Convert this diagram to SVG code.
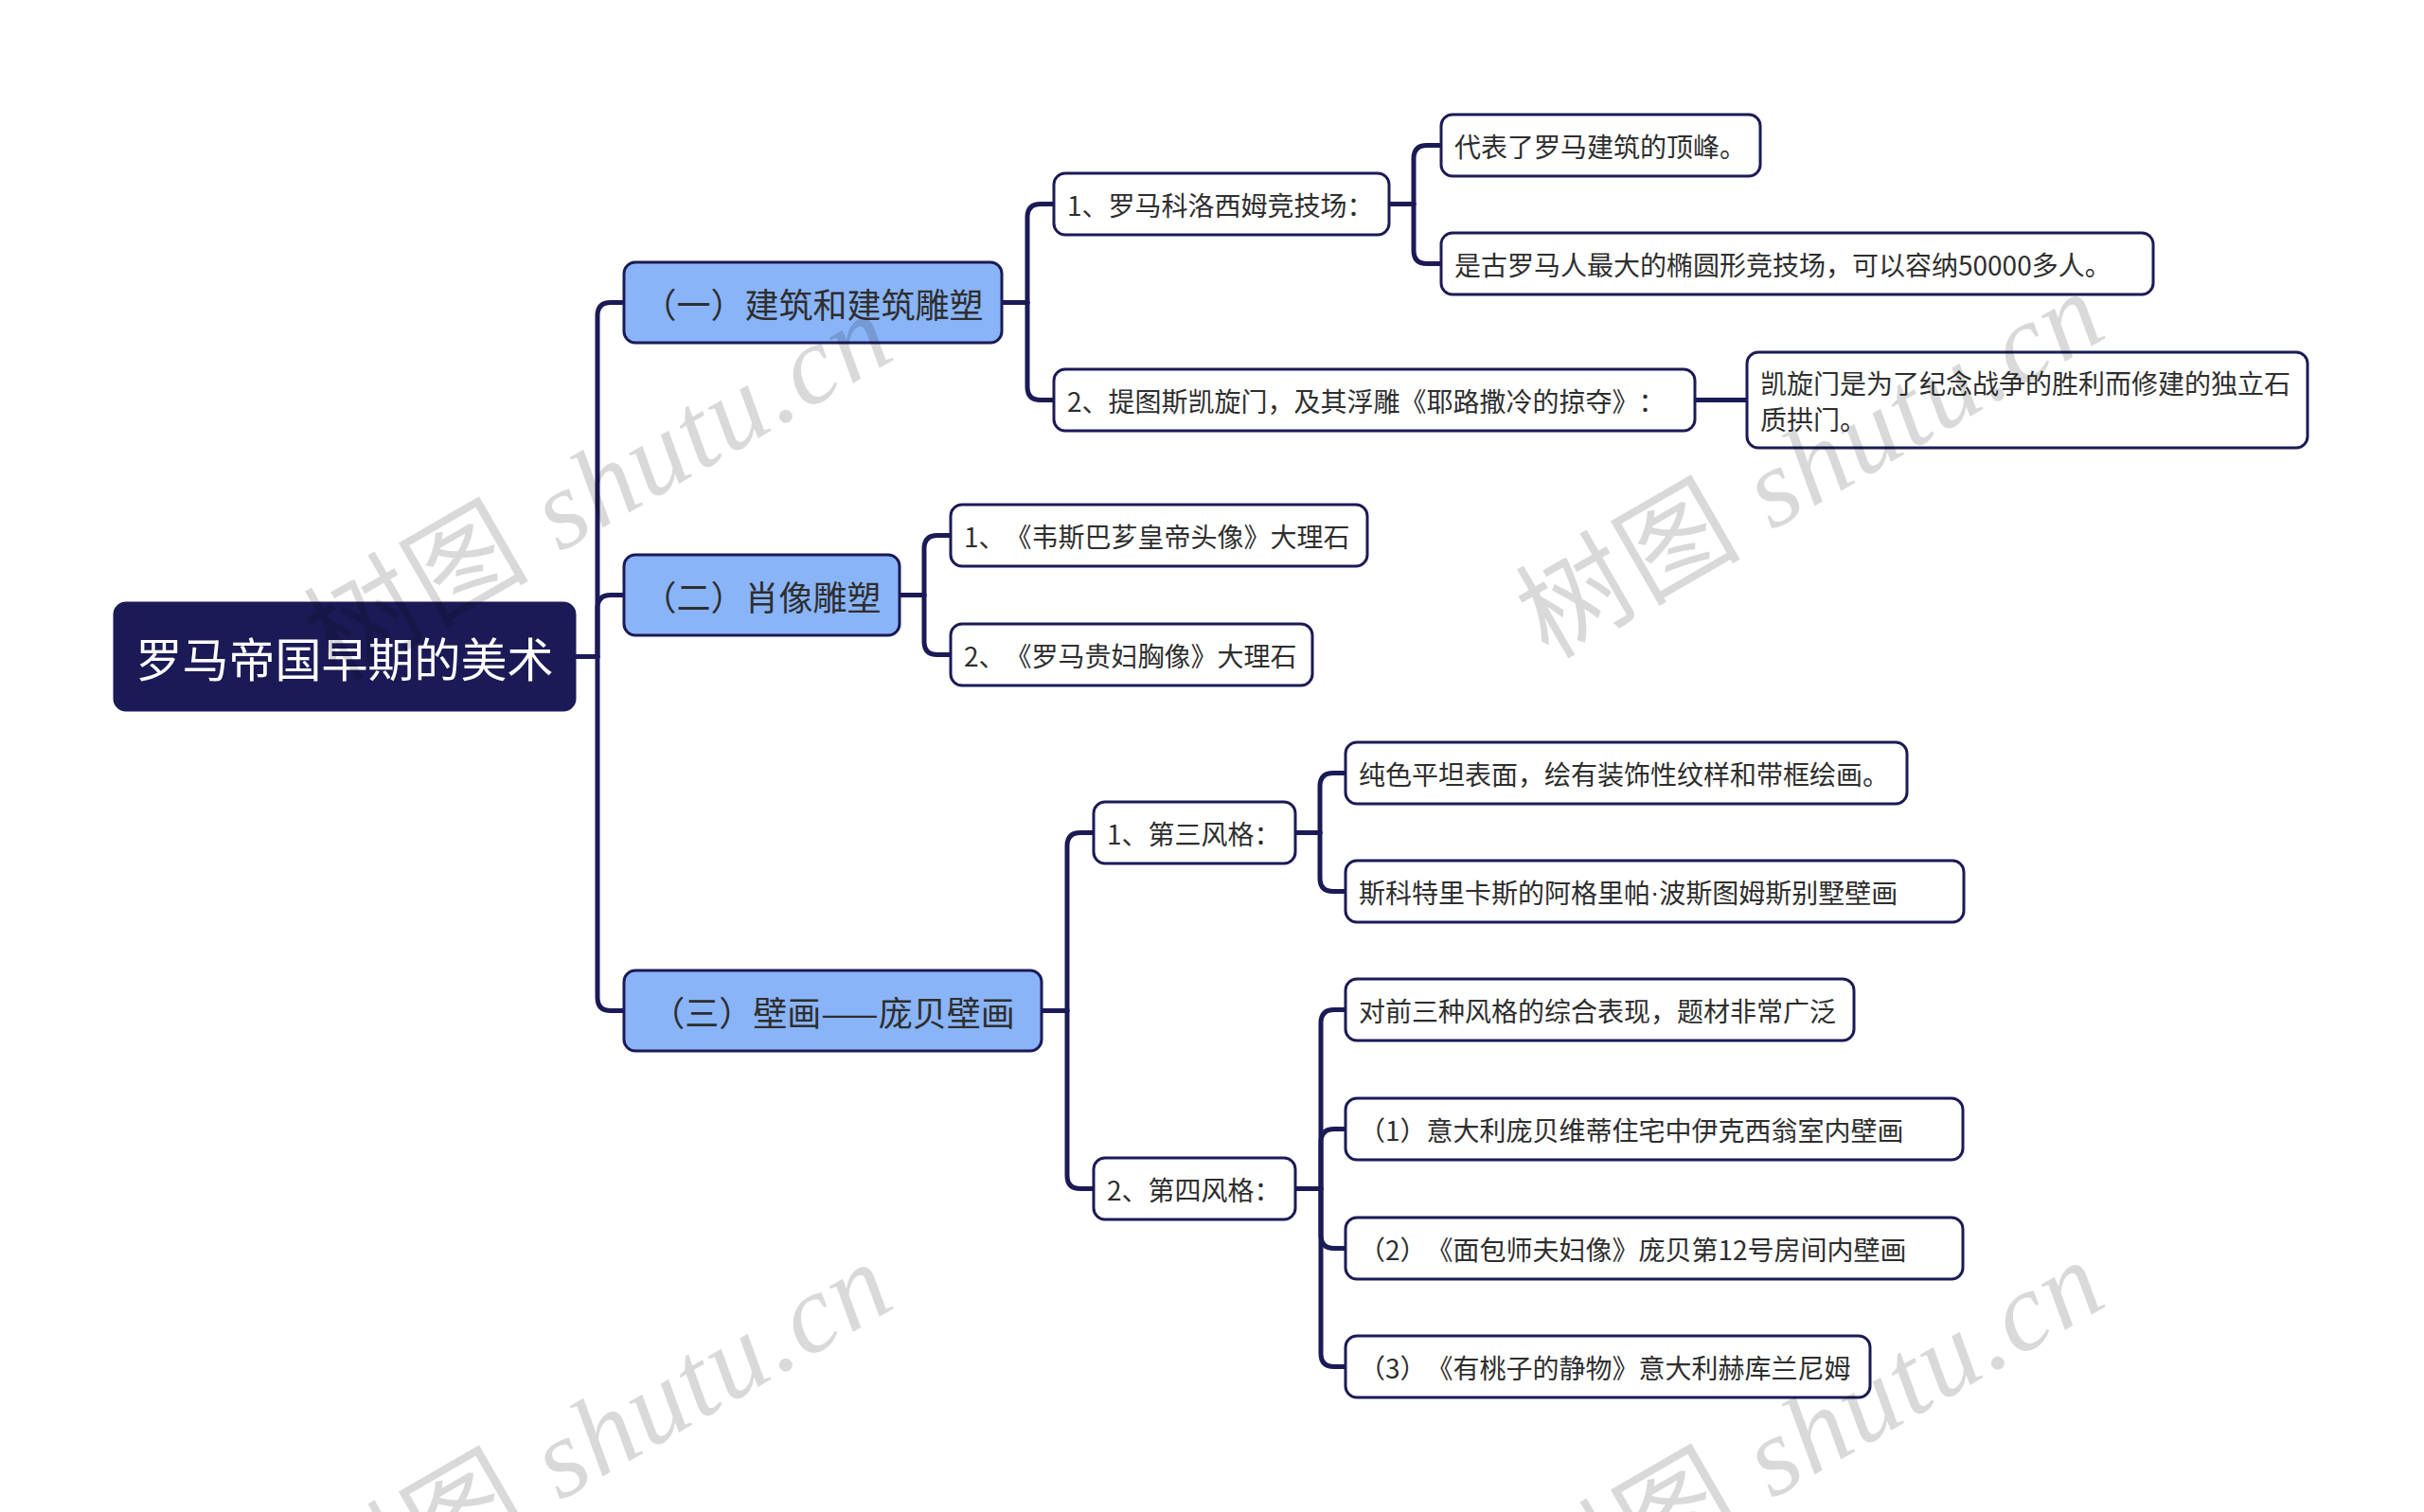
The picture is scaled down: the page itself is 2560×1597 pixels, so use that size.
<svg xmlns="http://www.w3.org/2000/svg" width="2560" height="1597" viewBox="0 0 2560 1597">
<style>
.bg{fill:#ffffff}
.root rect{fill:#1c1a56;stroke:#1c1a56;stroke-width:3}
.l1 rect{fill:#8ab4f8;stroke:#1c1a56;stroke-width:3}
.l2 rect{fill:#ffffff;stroke:#1c1a56;stroke-width:3}
text{font-family:"Noto Sans CJK SC","Liberation Sans",sans-serif;text-spacing-trim:space-all;font-feature-settings:"chws" 0,"halt" 0}
.root text{fill:#ffffff;font-size:49px}
.l1 text{fill:#2e2e2e;font-size:36px}
.l2 text{fill:#2e2e2e;font-size:28px}
.dot{font-family:"Liberation Sans",sans-serif}
.conn path{fill:none;stroke:#1c1a56;stroke-width:5;stroke-linecap:round;stroke-linejoin:round}
.wm{fill:#000000;fill-opacity:0.15;font-size:118px;font-family:"Liberation Serif","Noto Sans CJK SC",serif}
</style>
<rect class="bg" x="0" y="0" width="2560" height="1597"/>
<g id="connectors" class="conn">
  <path d="M607,693.5 H631"/>
  <path d="M631,693.5 V333.5 Q631,319.5 645,319.5 H659"/>
  <path d="M631,693.5 V642.5 Q631,628.5 645,628.5 H659"/>
  <path d="M631,693.5 V1053.5 Q631,1067.5 645,1067.5 H659"/>
  <path d="M1058,319.5 H1085"/>
  <path d="M1085,319.5 V229.5 Q1085,215.5 1099,215.5 H1113"/>
  <path d="M1085,319.5 V408.5 Q1085,422.5 1099,422.5 H1113"/>
  <path d="M1467,215.5 H1493"/>
  <path d="M1493,215.5 V167.5 Q1493,153.5 1507,153.5 H1522"/>
  <path d="M1493,215.5 V264.5 Q1493,278.5 1507,278.5 H1522"/>
  <path d="M1790,422.5 H1845"/>
  <path d="M950,628.5 H976"/>
  <path d="M976,628.5 V579.5 Q976,565.5 990,565.5 H1004"/>
  <path d="M976,628.5 V677.5 Q976,691.5 990,691.5 H1004"/>
  <path d="M1100,1067.5 H1127"/>
  <path d="M1127,1067.5 V893.5 Q1127,879.5 1141,879.5 H1155"/>
  <path d="M1127,1067.5 V1241.5 Q1127,1255.5 1141,1255.5 H1155"/>
  <path d="M1368,879.5 H1394"/>
  <path d="M1394,879.5 V830.5 Q1394,816.5 1408,816.5 H1421"/>
  <path d="M1394,879.5 V927.5 Q1394,941.5 1408,941.5 H1421"/>
  <path d="M1368,1255.5 H1395"/>
  <path d="M1395,1255.5 V1080.5 Q1395,1066.5 1409,1066.5 H1421"/>
  <path d="M1395,1255.5 V1206.5 Q1395,1192.5 1409,1192.5 H1421"/>
  <path d="M1395,1255.5 V1304.5 Q1395,1318.5 1409,1318.5 H1421"/>
  <path d="M1395,1255.5 V1429.5 Q1395,1443.5 1409,1443.5 H1421"/>
</g>

<g id="root" class="root">
  <rect x="121" y="637" width="486" height="113" rx="12"/>
  <text x="364" y="693.5" text-anchor="middle" dominant-baseline="central">罗马帝国早期的美术</text>
</g>

<g id="n1" class="l1">
  <rect x="659" y="277" width="399" height="85" rx="12"/>
  <text x="858.5" y="319.5" text-anchor="middle" dominant-baseline="central">（一）建筑和建筑雕塑</text>
</g>
<g id="n2" class="l1">
  <rect x="659" y="586" width="291" height="85" rx="12"/>
  <text x="804.5" y="628.5" text-anchor="middle" dominant-baseline="central">（二）肖像雕塑</text>
</g>
<g id="n3" class="l1">
  <rect x="659" y="1025" width="441" height="85" rx="12"/>
  <text x="879.5" y="1067.5" text-anchor="middle" dominant-baseline="central">（三）壁画——庞贝壁画</text>
</g>

<g id="n1-1" class="l2">
  <rect x="1113" y="183" width="354" height="65" rx="12"/>
  <text x="1127" y="215.5" dominant-baseline="central">1、罗马科洛西姆竞技场：</text>
</g>
<g id="n1-2" class="l2">
  <rect x="1113" y="390" width="677" height="65" rx="12"/>
  <text x="1127" y="422.5" dominant-baseline="central">2、提图斯凯旋门，及其浮雕《耶路撒冷的掠夺》：</text>
</g>
<g id="n1-1-1" class="l2">
  <rect x="1522" y="121" width="337" height="65" rx="12"/>
  <text x="1536" y="153.5" dominant-baseline="central">代表了罗马建筑的顶峰。</text>
</g>
<g id="n1-1-2" class="l2">
  <rect x="1522" y="246" width="752" height="65" rx="12"/>
  <text x="1536" y="278.5" dominant-baseline="central">是古罗马人最大的椭圆形竞技场，可以容纳50000多人。</text>
</g>
<g id="n1-2-1" class="l2">
  <rect x="1845" y="372" width="592" height="101" rx="12"/>
  <text x="1859" y="404" dominant-baseline="central">凯旋门是为了纪念战争的胜利而修建的独立石</text>
  <text x="1859" y="442" dominant-baseline="central">质拱门。</text>
</g>

<g id="n2-1" class="l2">
  <rect x="1004" y="533" width="440" height="65" rx="12"/>
  <text x="1018" y="565.5" dominant-baseline="central">1、《韦斯巴芗皇帝头像》大理石</text>
</g>
<g id="n2-2" class="l2">
  <rect x="1004" y="659" width="382" height="65" rx="12"/>
  <text x="1018" y="691.5" dominant-baseline="central">2、《罗马贵妇胸像》大理石</text>
</g>

<g id="n3-1" class="l2">
  <rect x="1155" y="847" width="213" height="65" rx="12"/>
  <text x="1169" y="879.5" dominant-baseline="central">1、第三风格：</text>
</g>
<g id="n3-2" class="l2">
  <rect x="1155" y="1223" width="213" height="65" rx="12"/>
  <text x="1169" y="1255.5" dominant-baseline="central">2、第四风格：</text>
</g>
<g id="n3-1-1" class="l2">
  <rect x="1421" y="784" width="593" height="65" rx="12"/>
  <text x="1435" y="816.5" dominant-baseline="central">纯色平坦表面，绘有装饰性纹样和带框绘画。</text>
</g>
<g id="n3-1-2" class="l2">
  <rect x="1421" y="909" width="653" height="65" rx="12"/>
  <text x="1435" y="941.5" dominant-baseline="central">斯科特里卡斯的阿格里帕<tspan class="dot">·</tspan>波斯图姆斯别墅壁画</text>
</g>
<g id="n3-2-1" class="l2">
  <rect x="1421" y="1034" width="537" height="65" rx="12"/>
  <text x="1435" y="1066.5" dominant-baseline="central">对前三种风格的综合表现，题材非常广泛</text>
</g>
<g id="n3-2-2" class="l2">
  <rect x="1421" y="1160" width="652" height="65" rx="12"/>
  <text x="1435" y="1192.5" dominant-baseline="central">（1）意大利庞贝维蒂住宅中伊克西翁室内壁画</text>
</g>
<g id="n3-2-3" class="l2">
  <rect x="1421" y="1286" width="652" height="65" rx="12"/>
  <text x="1435" y="1318.5" dominant-baseline="central">（2）《面包师夫妇像》庞贝第12号房间内壁画</text>
</g>
<g id="n3-2-4" class="l2">
  <rect x="1421" y="1411" width="554" height="65" rx="12"/>
  <text x="1435" y="1443.5" dominant-baseline="central">（3）《有桃子的静物》意大利赫库兰尼姆</text>
</g>

<g id="watermarks">
  <text class="wm" transform="translate(355,720) rotate(-30)" textLength="685">树图 <tspan font-style="italic">shutu.cn</tspan></text>
  <text class="wm" transform="translate(1635,697) rotate(-30)" textLength="685">树图 <tspan font-style="italic">shutu.cn</tspan></text>
  <text class="wm" transform="translate(355,1722) rotate(-30)" textLength="685">树图 <tspan font-style="italic">shutu.cn</tspan></text>
  <text class="wm" transform="translate(1635,1720) rotate(-30)" textLength="685">树图 <tspan font-style="italic">shutu.cn</tspan></text>
</g>
</svg>
